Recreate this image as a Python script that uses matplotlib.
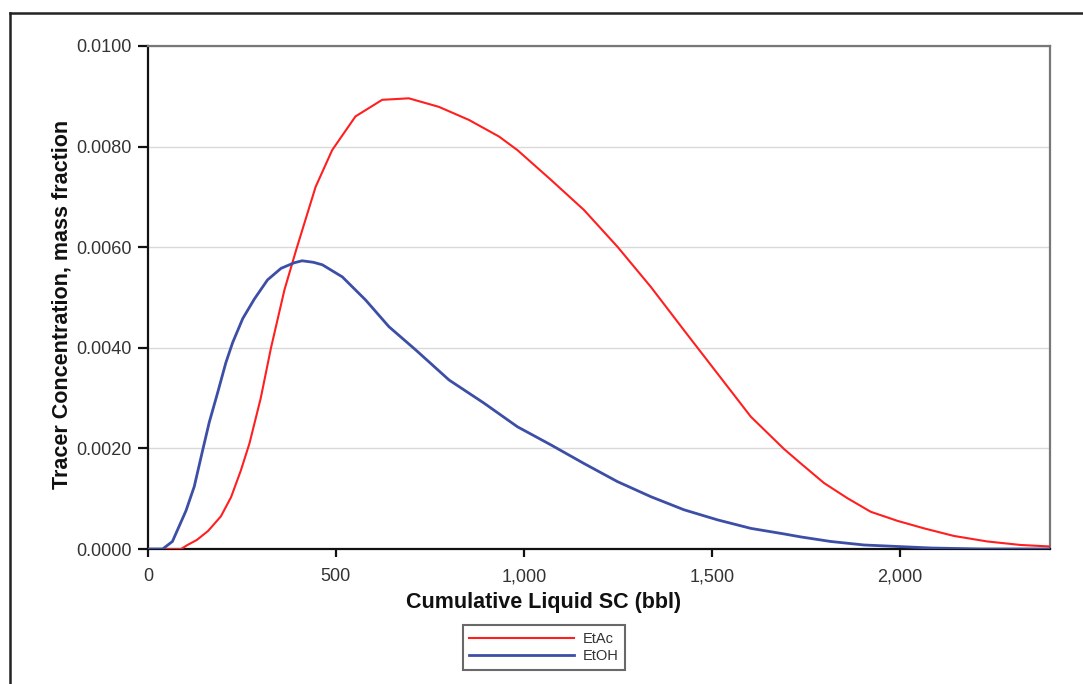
import matplotlib
matplotlib.use("Agg")
import matplotlib.pyplot as plt
from matplotlib.lines import Line2D
from matplotlib.ticker import FuncFormatter, MultipleLocator

plt.rcParams['font.family'] = ['Liberation Sans', 'DejaVu Sans']

etac_x = [0, 88, 105, 130, 160, 194, 221, 247, 270, 300, 327, 363, 394, 415, 446, 490,
          552, 623, 694, 774, 854, 934, 983, 1072, 1160, 1249, 1338, 1426, 1515,
          1604, 1692, 1737, 1799, 1861, 1923, 1994, 2065, 2144, 2233, 2322, 2400]
etac_y = [0, 0, 0.00008, 0.00018, 0.00036, 0.00065, 0.00103, 0.00156, 0.00210, 0.00300,
          0.00399, 0.00515, 0.00594, 0.00645, 0.00720, 0.00793, 0.00860, 0.00893,
          0.00896, 0.00879, 0.00853, 0.00820, 0.00793, 0.00734, 0.00674, 0.00601,
          0.00521, 0.00435, 0.00349, 0.00263, 0.00199, 0.00170, 0.00131, 0.00101,
          0.00074, 0.00056, 0.00041, 0.00026, 0.00015, 0.00008, 0.00005]

etoh_x = [0, 39, 65, 101, 123, 145, 163, 185, 207, 225, 252, 283, 318, 354, 389,
          410, 440, 464, 517, 579, 641, 712, 801, 894, 983, 1072, 1160, 1249, 1338,
          1426, 1515, 1604, 1692, 1737, 1816, 1905, 1994, 2083, 2216, 2400]
etoh_y = [0, 0, 0.00015, 0.00076, 0.00124, 0.00195, 0.00252, 0.00310, 0.00370,
          0.00410, 0.00458, 0.00497, 0.00535, 0.00558, 0.00569, 0.00573, 0.00570,
          0.00565, 0.00541, 0.00495, 0.00442, 0.00396, 0.00336, 0.00290, 0.00243,
          0.00207, 0.00170, 0.00134, 0.00104, 0.00078, 0.00058, 0.00041, 0.00030,
          0.00024, 0.00015, 0.00008, 0.00005, 0.00002, 0.0, 0.0]

series_names = ["EtAc", "EtOH"]
x_label = "Cumulative Liquid SC (bbl)"
y_label = "Tracer Concentration, mass fraction"

W, H = 1083, 684
fig = plt.figure(figsize=(W / 100, H / 100), dpi=100)
fig.patch.set_facecolor('white')

# outer frame lines (left and top)
fig.add_artist(Line2D([10 / W, 10 / W], [0, 1 - 13 / H], transform=fig.transFigure,
                      color='#222222', lw=1.8))
fig.add_artist(Line2D([10 / W, 1], [1 - 13 / H, 1 - 13 / H], transform=fig.transFigure,
                      color='#222222', lw=1.8))

left, right, top, bottom = 148, 1050, 46, 549
ax = fig.add_axes([left / W, 1 - bottom / H, (right - left) / W, (bottom - top) / H])

ax.plot(etac_x, etac_y, color='#ff1f1f', lw=1.5, label=series_names[0], zorder=3)
ax.plot(etoh_x, etoh_y, color='#3d4ea6', lw=2.0, label=series_names[1], zorder=3)

ax.set_xlim(0, 2400)
ax.set_ylim(0, 0.0100)
ax.xaxis.set_major_locator(MultipleLocator(500))
ax.yaxis.set_major_locator(MultipleLocator(0.002))
ax.xaxis.set_major_formatter(FuncFormatter(lambda v, p: f"{int(v):,}"))
ax.yaxis.set_major_formatter(FuncFormatter(lambda v, p: f"{v:.4f}"))

ax.grid(axis='y', color='#d9d9d9', lw=1.0, zorder=0)
ax.set_axisbelow(True)

for s in ['left', 'bottom']:
    ax.spines[s].set_color('#111111')
    ax.spines[s].set_linewidth(1.6)
for s in ['top', 'right']:
    ax.spines[s].set_color('#777777')
    ax.spines[s].set_linewidth(1.6)

ax.tick_params(axis='both', direction='out', width=1.6, color='#111111',
               labelsize=13, labelcolor='#333333')
ax.tick_params(axis='x', length=6, pad=8)
ax.tick_params(axis='y', length=7.5, pad=4)

ax.set_xlabel(x_label, fontsize=15.5, fontweight='bold', color='#111111')
ax.set_ylabel(y_label, fontsize=15.5, fontweight='bold', color='#111111')
ax.xaxis.set_label_coords(0.438, -0.085)
ax.yaxis.set_label_coords(-0.084, 0.487)

leg = ax.legend(loc='center', bbox_to_anchor=(544 / W, 1 - 647.5 / H),
                bbox_transform=fig.transFigure, fontsize=10.5, frameon=True,
                fancybox=False, handlelength=7.2, labelspacing=0.25,
                borderpad=0.45, handletextpad=0.6, borderaxespad=0)
leg.get_frame().set_edgecolor('#444444')
leg.get_frame().set_linewidth(1.5)
for t in leg.get_texts():
    t.set_color('#333333')

fig.savefig("out.png", dpi=100, facecolor='white')
